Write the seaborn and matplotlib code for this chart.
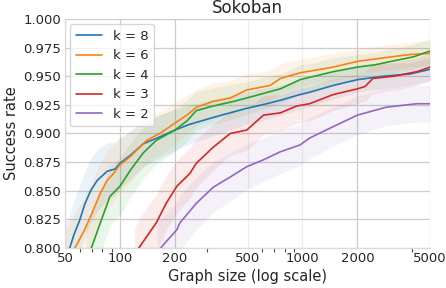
import numpy as np
import pandas as pd
import matplotlib
matplotlib.use("Agg")
import matplotlib.pyplot as plt
import matplotlib.ticker as mticker
import seaborn as sns

# success rate vs graph size
k8_x = [50, 53, 56, 60, 64, 69, 75, 85, 94, 100, 114, 134, 165, 200, 241, 324, 400, 495, 600, 756, 970, 1094, 1475, 2000, 2765, 3900, 5000]
k8_y = [0.790, 0.800, 0.812, 0.824, 0.838, 0.850, 0.859, 0.867, 0.869, 0.874, 0.881, 0.891, 0.897, 0.903, 0.908, 0.914, 0.918, 0.922, 0.925, 0.929, 0.934, 0.936, 0.942, 0.947, 0.950, 0.952, 0.956]
k8_err = [0.030, 0.030, 0.030, 0.030, 0.029, 0.028, 0.027, 0.025, 0.023, 0.022, 0.021, 0.020, 0.019, 0.018, 0.017, 0.016, 0.015, 0.014, 0.014, 0.013, 0.013, 0.012, 0.012, 0.011, 0.011, 0.010, 0.010]

k6_x = [50, 57, 64, 70, 78, 85, 92, 99, 114, 140, 165, 200, 237, 262, 324, 402, 495, 665, 756, 970, 1475, 2000, 2765, 3900, 5000]
k6_y = [0.785, 0.801, 0.816, 0.830, 0.848, 0.859, 0.865, 0.872, 0.880, 0.894, 0.900, 0.909, 0.917, 0.923, 0.928, 0.931, 0.938, 0.942, 0.948, 0.953, 0.958, 0.963, 0.966, 0.969, 0.970]
k6_err = [0.030, 0.030, 0.029, 0.028, 0.027, 0.026, 0.025, 0.024, 0.022, 0.020, 0.019, 0.018, 0.017, 0.016, 0.016, 0.015, 0.014, 0.013, 0.013, 0.012, 0.012, 0.011, 0.011, 0.011, 0.011]

k4_x = [65, 70, 78, 88, 100, 114, 134, 158, 200, 233, 262, 324, 419, 495, 611, 756, 970, 1094, 1475, 2000, 2500, 3290, 4070, 5000]
k4_y = [0.790, 0.801, 0.822, 0.845, 0.854, 0.868, 0.883, 0.894, 0.903, 0.911, 0.920, 0.924, 0.928, 0.931, 0.935, 0.939, 0.947, 0.949, 0.954, 0.958, 0.960, 0.964, 0.967, 0.972]
k4_err = [0.028, 0.028, 0.027, 0.026, 0.025, 0.024, 0.022, 0.021, 0.019, 0.018, 0.017, 0.016, 0.015, 0.014, 0.014, 0.013, 0.013, 0.012, 0.012, 0.011, 0.011, 0.011, 0.011, 0.011]

k3_x = [120, 128, 158, 179, 205, 241, 262, 324, 402, 495, 611, 756, 930, 1094, 1475, 2000, 2200, 2430, 3150, 4240, 5000]
k3_y = [0.792, 0.801, 0.822, 0.839, 0.854, 0.865, 0.874, 0.888, 0.900, 0.903, 0.916, 0.918, 0.924, 0.926, 0.934, 0.939, 0.941, 0.948, 0.950, 0.954, 0.958]
k3_err = [0.025, 0.025, 0.025, 0.024, 0.023, 0.022, 0.021, 0.020, 0.019, 0.018, 0.017, 0.016, 0.015, 0.015, 0.014, 0.013, 0.013, 0.013, 0.012, 0.012, 0.012]

k2_x = [160, 169, 205, 213, 262, 324, 402, 495, 611, 756, 970, 1094, 1475, 2000, 2880, 4240, 5000]
k2_y = [0.795, 0.801, 0.816, 0.822, 0.839, 0.853, 0.862, 0.871, 0.877, 0.884, 0.890, 0.896, 0.906, 0.916, 0.923, 0.926, 0.926]
k2_err = [0.025, 0.025, 0.024, 0.024, 0.023, 0.022, 0.021, 0.020, 0.019, 0.019, 0.018, 0.018, 0.017, 0.017, 0.016, 0.016, 0.016]

labels = ["k = 8", "k = 6", "k = 4", "k = 3", "k = 2"]
series = [(k8_x, k8_y, k8_err), (k6_x, k6_y, k6_err), (k4_x, k4_y, k4_err),
          (k3_x, k3_y, k3_err), (k2_x, k2_y, k2_err)]

x_ticks = [50, 100, 200, 500, 1000, 2000, 5000]
x_minor = [60, 70, 80, 90, 300, 600, 700, 800, 900, 4000]
y_ticks = [0.800, 0.825, 0.850, 0.875, 0.900, 0.925, 0.950, 0.975, 1.000]

sns.set_theme(style="whitegrid")
plt.rcParams['font.family'] = ['DejaVu Sans']
colors = sns.color_palette("tab10", 5)

rows = []
for lab, (xs, ys, es) in zip(labels, series):
    for a, b in zip(xs, ys):
        rows.append({"size": a, "rate": b, "k": lab})
df = pd.DataFrame(rows)

fig = plt.figure(figsize=(4.46, 2.88), dpi=100)
ax = fig.add_axes([0.146, 0.139, 0.818, 0.795])

for c, (xs, ys, es) in zip(colors, series):
    lo = np.array(ys) - np.array(es)
    hi = np.array(ys) + np.array(es)
    ax.fill_between(xs, lo, hi, color=c, alpha=0.09, linewidth=0, zorder=1)

sns.lineplot(data=df, x="size", y="rate", hue="k", hue_order=labels,
             palette=colors, errorbar=None, linewidth=1.2, ax=ax, zorder=3)

ax.set_xscale("log")
ax.set_xlim(50, 5000)
ax.set_ylim(0.8, 1.0)
ax.xaxis.set_major_locator(mticker.FixedLocator(x_ticks))
ax.xaxis.set_major_formatter(mticker.FixedFormatter([str(t) for t in x_ticks]))
ax.xaxis.set_minor_locator(mticker.FixedLocator(x_minor))
ax.xaxis.set_minor_formatter(mticker.NullFormatter())
ax.set_yticks(y_ticks)
ax.yaxis.set_major_formatter(mticker.FormatStrFormatter("%.3f"))
ax.tick_params(axis="both", which="major", labelsize=9.5, length=0, pad=3, labelcolor=".15")
ax.tick_params(axis="x", which="minor", bottom=True, length=3, width=0.8, color=".3")

ax.grid(True, which="major", color=".8", linewidth=0.9)
for i, gl in enumerate(ax.get_xgridlines()):
    if x_ticks[i] in (500, 1000):
        gl.set_color(".93")

sns.despine(ax=ax)
for s in ("left", "bottom"):
    ax.spines[s].set_color(".85")
    ax.spines[s].set_linewidth(0.9)

ax.set_xlabel("Graph size (log scale)", fontsize=10.5, color=".15", labelpad=3)
ax.set_ylabel("Success rate", fontsize=10.5, color=".15", labelpad=3)
ax.set_title("Sokoban", fontsize=12, color=".15", pad=4)

leg = ax.get_legend()
handles = leg.legend_handles
ax.legend(handles, labels, loc="upper left", fontsize=9.5, frameon=True,
          edgecolor=".8", borderaxespad=0.4, handlelength=2.0, labelspacing=0.5)

fig.savefig("out.png", dpi=100)
